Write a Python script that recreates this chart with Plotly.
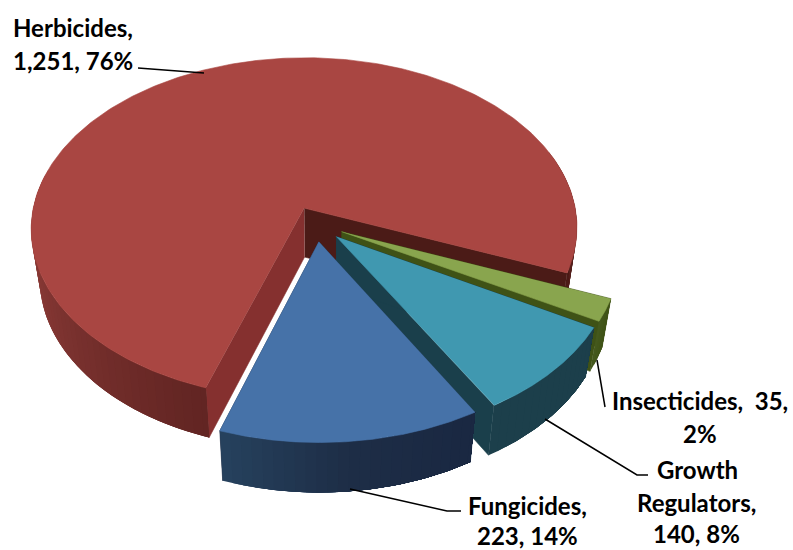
import numpy as np
import plotly.graph_objects as go

categories = ["Herbicides", "Fungicides", "Growth Regulators", "Insecticides"]
values = [1251, 223, 140, 35]
percents = ["76%", "14%", "8%", "2%"]

top_colors = ["#A94642", "#4672A8", "#4098B0", "#89A54E"]
face_colors = [("#4B1B17", "#85302F"), ("#1A2842", "#27435F"), ("#1A3F4B", "#1A3F4B"), ("#3F5216", "#3F5216")]
wall_stops = [
    ([-22, 0, 180, 251], ["#4B1B17", "#5A2320", "#933F3B", "#622523"]),
    ([251, 275, 300], ["#27435F", "#1E2E47", "#1A2842"]),
    ([300, 331], ["#1C3F4B", "#1C3F4B"]),
    ([330, 338], ["#465A1F", "#3F5216"]),
]

# projection of the tilted pie
X0, Y0, A, B, K = 316.0, 224.0, 274.0, 172.0, 0.12
DEPTH, BOTTOM_SCALE = 49.0, 0.97
EXPLODE = 0.103
FIRST_ANGLE = 251.5


def top(x, y):
    d = 1 + K * y
    return X0 + A * x / d, Y0 - B * y / d


def bottom(x, y):
    d = 1 + K * y
    return X0 + BOTTOM_SCALE * A * x / d, Y0 - BOTTOM_SCALE * B * y / d + DEPTH / d


def rgb(c):
    return np.array([int(c[i:i + 2], 16) for i in (1, 3, 5)], float)


def shade(theta, stops, cols):
    arr = np.array([rgb(c) for c in cols])
    v = [np.interp(theta, stops, arr[:, i]) for i in range(3)]
    return "rgb(%d,%d,%d)" % tuple(v)


fig = go.Figure()


def poly(xs, ys, color, width=0.6):
    fig.add_trace(go.Scatter(x=list(xs), y=list(ys), mode="lines", fill="toself", fillcolor=color,
                             line=dict(color=color, width=width), hoverinfo="skip", showlegend=False))


sweeps = 360.0 * np.array(values) / sum(values)
# slice spans, counter-clockwise; the first one ends at FIRST_ANGLE, the others follow it
spans = [(FIRST_ANGLE - sweeps[0], FIRST_ANGLE)]
cur = FIRST_ANGLE
for s in sweeps[1:]:
    spans.append((cur, cur + s))
    cur += s

STEP = 2.0
for i in [0, 3, 2, 1]:
    t0, t1 = spans[i]
    mid = np.radians((t0 + t1) / 2)
    ax, ay = EXPLODE * np.cos(mid), EXPLODE * np.sin(mid)
    th = np.radians(np.linspace(t0, t1, 300))
    xs, ys = ax + np.cos(th), ay + np.sin(th)

    # cut faces
    for t, col in ((t0, face_colors[i][0]), (t1, face_colors[i][1])):
        r = np.radians(t)
        ex, ey = ax + np.cos(r), ay + np.sin(r)
        p1, p2, p3, p4 = top(ax, ay), top(ex, ey), bottom(ex, ey), bottom(ax, ay)
        poly([p1[0], p2[0], p3[0], p4[0]], [p1[1], p2[1], p3[1], p4[1]], col)

    # outer wall, in overlapping strips painted from the far end, so no seams show
    edges = np.arange(t0, t1, STEP).tolist()
    for a0 in edges:
        if np.sin(np.radians(a0)) > 0.25:
            continue
        r = np.radians(np.linspace(a0, t1 if i else min(t1, a0 + 3 * STEP), 60))
        sx, sy = ax + np.cos(r), ay + np.sin(r)
        tx, ty = top(sx, sy)
        bx, by = bottom(sx, sy)
        poly(np.r_[tx, bx[::-1]], np.r_[ty, by[::-1]], shade(a0 + STEP / 2, *wall_stops[i]), 0)

    # top surface
    tx, ty = top(xs, ys)
    ox, oy = top(ax, ay)
    poly(np.r_[ox, tx], np.r_[oy, ty], top_colors[i])

# leader lines
leaders = [
    ([138, 204], [68, 73]),
    ([350, 447, 461], [489, 511, 511]),
    ([545, 637, 648], [419, 475, 475]),
    ([597, 605], [360, 407]),
]
for lx, ly in leaders:
    fig.add_trace(go.Scatter(x=lx, y=ly, mode="lines", line=dict(color="#000000", width=1.5),
                             hoverinfo="skip", showlegend=False))

# labels: one entry per printed line
labels = [
    ("Herbicides,", 13, 27, "left"),
    ("1,251, 76%", 13, 60, "left"),
    ("Fungicides,", 527, 505, "center"),
    ("223, 14%", 527, 535, "center"),
    ("Growth", 697, 469, "center"),
    ("Regulators,", 696, 502, "center"),
    ("140, 8%", 696, 533, "center"),
    ("Insecticides,  35,", 700, 400, "center"),
    ("2%", 700, 433, "center"),
]
for text, x, y, anchor in labels:
    fig.add_annotation(x=x, y=y, xref="x", yref="y", text="<b>%s</b>" % text.replace("  ", "&nbsp; "),
                       showarrow=False, xanchor=anchor, yanchor="middle", borderpad=0, borderwidth=0,
                       font=dict(family="Lato", size=24, color="#000000"))

fig.update_layout(
    width=793, height=550, margin=dict(l=0, r=0, t=0, b=0, autoexpand=False),
    paper_bgcolor="#FFFFFF", plot_bgcolor="#FFFFFF", showlegend=False,
    xaxis=dict(range=[0, 793], visible=False, fixedrange=True),
    yaxis=dict(range=[550, 0], visible=False, fixedrange=True),
)
fig.write_html("out.html", config=dict(displayModeBar=False),
               post_script="document.body.style.margin='0';document.documentElement.style.overflow='hidden';")
